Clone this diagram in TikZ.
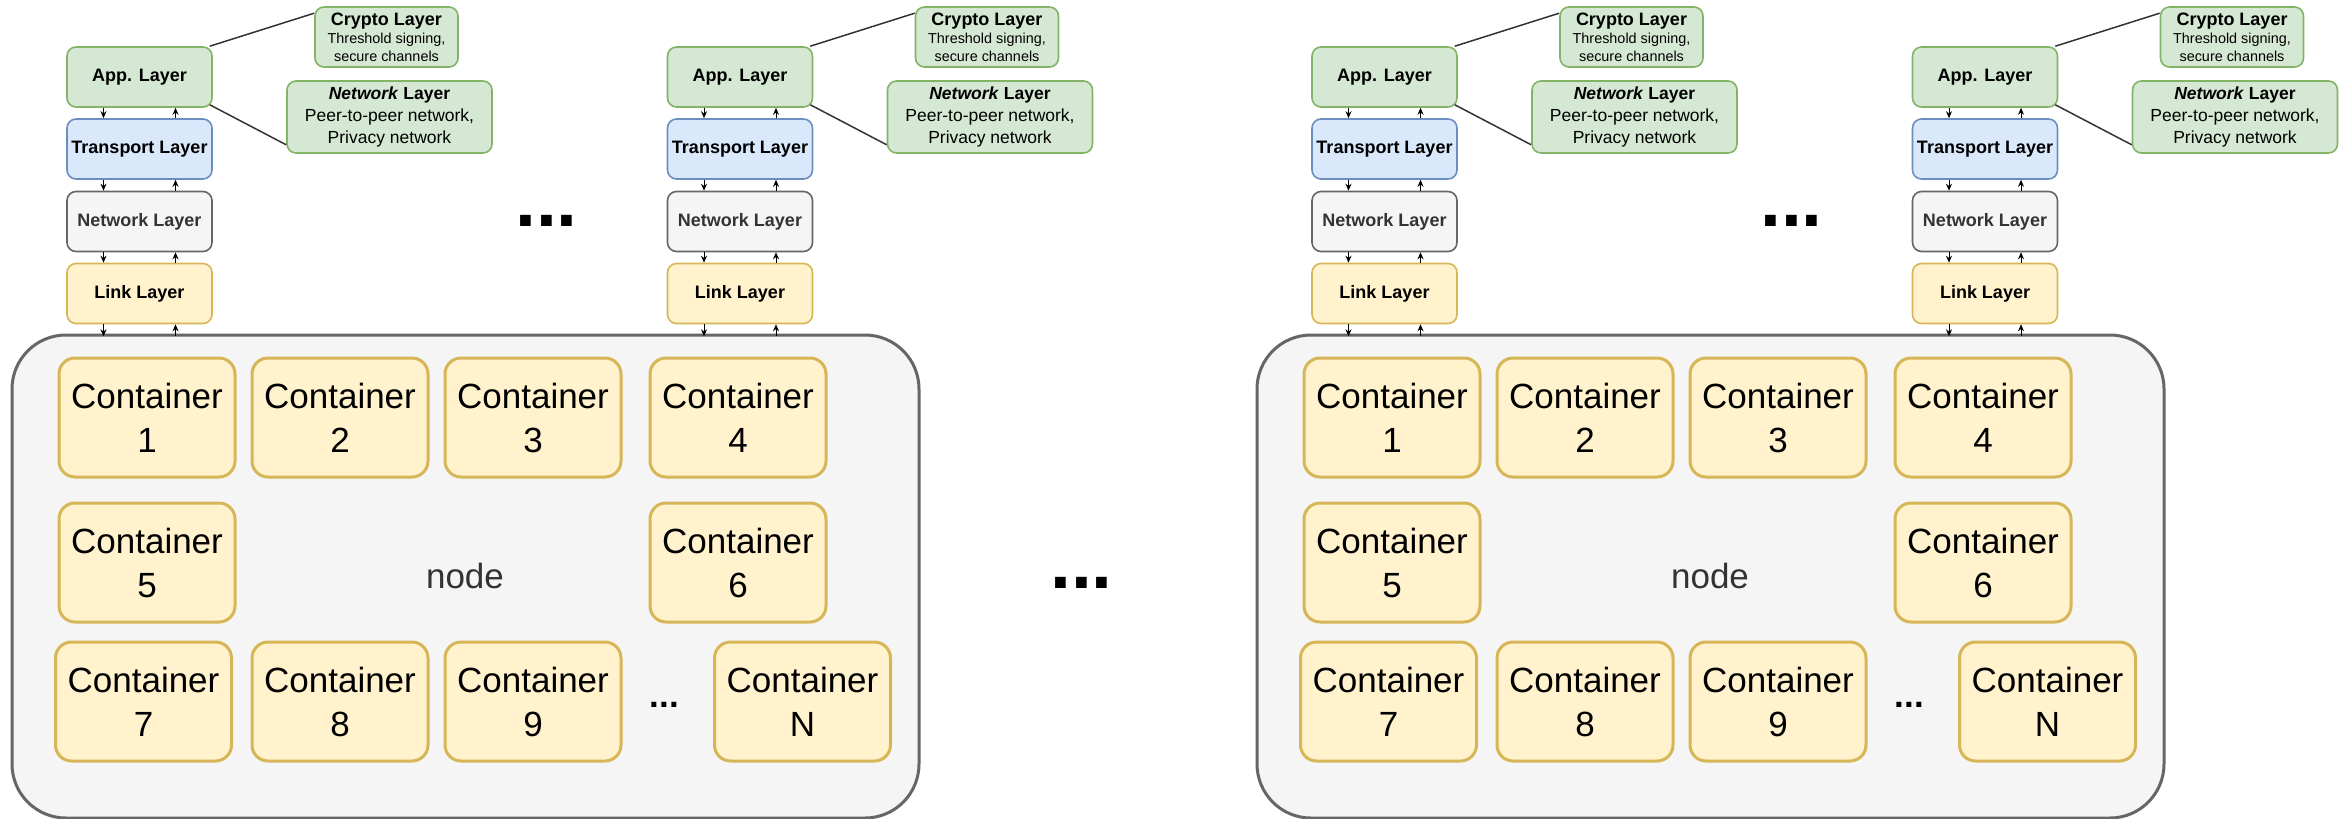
\documentclass[tikz,border=0pt]{standalone}
\usepackage{fontspec}
\setmainfont{Liberation Sans}
\usetikzlibrary{arrows.meta}
\definecolor{gfill}{HTML}{D5E8D4}
\definecolor{gline}{HTML}{82B366}
\definecolor{bfill}{HTML}{DAE8FC}
\definecolor{bline}{HTML}{6C8EBF}
\definecolor{sfill}{HTML}{F5F5F5}
\definecolor{sline}{HTML}{666666}
\definecolor{yfill}{HTML}{FFF2CC}
\definecolor{yline}{HTML}{D6B656}
\definecolor{txtgray}{HTML}{333333}
\begin{document}
\begin{tikzpicture}[x=0.5pt,y=-0.5pt,
  layerbox/.style={draw, rounded corners=4.5pt, line width=0.8pt, minimum width=72.5pt, minimum height=30pt, inner sep=0pt, font=\fontsize{9}{11}\selectfont\bfseries},
  appbox/.style={layerbox, fill=gfill, draw=gline},
  trbox/.style={layerbox, fill=bfill, draw=bline},
  netbox/.style={layerbox, fill=sfill, draw=sline, text=txtgray},
  linkbox/.style={layerbox, fill=yfill, draw=yline},
  cryptobox/.style={draw=gline, fill=gfill, rounded corners=4.5pt, line width=0.8pt, minimum width=71.5pt, minimum height=30pt, inner sep=0pt, align=center, font=\fontsize{7.2}{9}\selectfont},
  p2pbox/.style={draw=gline, fill=gfill, rounded corners=4.5pt, line width=0.8pt, minimum width=102.5pt, minimum height=36pt, inner sep=0pt, align=center, font=\fontsize{8.75}{11}\selectfont},
  ctr/.style={draw=yline, fill=yfill, line width=1.5pt, rounded corners=8pt, minimum width=88pt, minimum height=59.5pt, align=center, inner sep=0pt, font=\fontsize{17.5}{22}\selectfont},
  bigbox/.style={draw=sline, fill=sfill, line width=1.5pt, rounded corners=27pt, minimum width=453.5pt, minimum height=241.5pt, inner sep=0pt},
  arr/.style={-{Stealth[length=3.5pt,width=3pt]}, line width=0.5pt, draw=black},
  tie/.style={draw=black!80, line width=0.75pt},
  bigdots/.style={font=\fontsize{37.5}{40}\selectfont\bfseries, anchor=base, inner sep=0pt}]
\useasboundingbox (0,0) rectangle (2346,819);
\foreach \o/\s in {0/L,1245/R}{
  \node[bigbox] (box\s) at (\o+465.5,576.5) {};
  \node[ctr] (c1\s) at (\o+147,417.5) {Container\\1};
  \node[ctr] (c2\s) at (\o+340,417.5) {Container\\2};
  \node[ctr] (c3\s) at (\o+533,417.5) {Container\\3};
  \node[ctr] (c4\s) at (\o+738,417.5) {Container\\4};
  \node[ctr] (c5\s) at (\o+147,562.5) {Container\\5};
  \node[ctr] (c6\s) at (\o+738,562.5) {Container\\6};
  \node[ctr] (c7\s) at (\o+143.5,701.5) {Container\\7};
  \node[ctr] (c8\s) at (\o+340,701.5) {Container\\8};
  \node[ctr] (c9\s) at (\o+533,701.5) {Container\\9};
  \node[ctr] (cN\s) at (\o+802.5,701.5) {Container\\N};
  \node[font=\fontsize{17.5}{22}\selectfont, text=txtgray, anchor=base, inner sep=0pt] (lbl\s) at (\o+465,588) {node};
  \node[font=\fontsize{17.5}{22}\selectfont\bfseries, anchor=base, inner sep=0pt] (cd\s) at (\o+664.5,707) {...};
  \node[bigdots] (td\s) at (\o+546.5,226) {...};
  \foreach \sx/\t in {139.5/a,740/b}{
    \node[appbox] (app\s\t) at (\o+\sx,77) {App. Layer};
    \node[trbox] (tr\s\t) at (\o+\sx,149) {Transport Layer};
    \node[netbox] (net\s\t) at (\o+\sx,221.5) {Network Layer};
    \node[linkbox] (lk\s\t) at (\o+\sx,293.5) {Link Layer};
    \node[cryptobox] (cr\s\t) at (\o+\sx+247,37) {{\fontsize{9}{9}\selectfont\bfseries Crypto Layer}\\Threshold signing,\\secure channels};
    \node[p2pbox] (pp\s\t) at (\o+\sx+250,117) {\textbf{\textit{Network} Layer}\\Peer-to-peer network,\\Privacy network};
    \draw[tie] ([xshift=-1.5pt]app\s\t.north east) -- ([yshift=-3.5pt]cr\s\t.north west);
    \draw[tie] ([xshift=-1.5pt,yshift=1.5pt]app\s\t.south east) -- ([yshift=4.5pt]pp\s\t.south west);
    \draw[arr] ([xshift=-18pt]app\s\t.south) -- ([xshift=-18pt]tr\s\t.north);
    \draw[arr] ([xshift=18pt]tr\s\t.north) -- ([xshift=18pt]app\s\t.south);
    \draw[arr] ([xshift=-18pt]tr\s\t.south) -- ([xshift=-18pt]net\s\t.north);
    \draw[arr] ([xshift=18pt]net\s\t.north) -- ([xshift=18pt]tr\s\t.south);
    \draw[arr] ([xshift=-18pt]net\s\t.south) -- ([xshift=-18pt]lk\s\t.north);
    \draw[arr] ([xshift=18pt]lk\s\t.north) -- ([xshift=18pt]net\s\t.south);
    \draw[arr] ([xshift=-18pt]lk\s\t.south) -- ([xshift=-18pt,yshift=-6pt]lk\s\t.south);
    \draw[arr] ([xshift=18pt,yshift=-6pt]lk\s\t.south) -- ([xshift=18pt]lk\s\t.south);
  }
}
\node[bigdots] (middots) at (1081.5,588) {...};
\end{tikzpicture}
\end{document}
